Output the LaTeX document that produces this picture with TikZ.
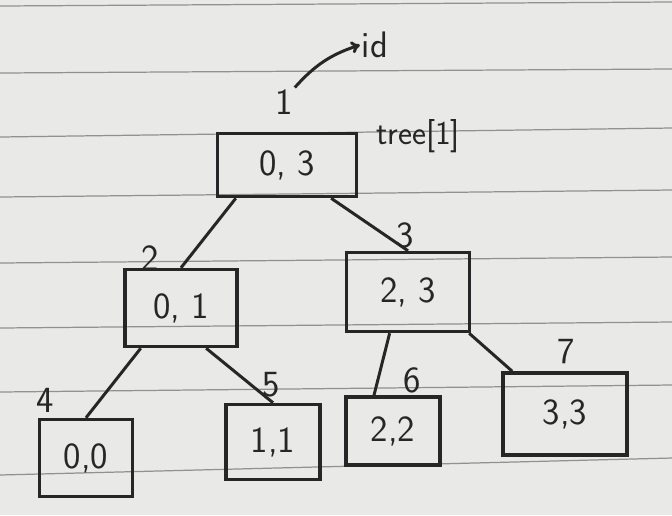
\documentclass[tikz,border=0pt]{standalone}
\usepackage{tikz}
\usetikzlibrary{arrows.meta}
\definecolor{paper}{RGB}{233,233,231}
\definecolor{rule}{RGB}{145,145,145}
\definecolor{ink}{RGB}{38,38,38}

\begin{document}
\begin{tikzpicture}[x=0.02cm,y=-0.02cm,>={To[length=5pt,width=7pt]},
  seg/.style={draw=ink,line width=2pt,text=ink,inner sep=0pt,
    font=\sffamily\fontsize{21}{24}\selectfont},
  idx/.style={text=ink,inner sep=1pt,font=\sffamily\fontsize{21}{23}\selectfont},
  edge/.style={draw=ink,line width=1.7pt}]
			\useasboundingbox (0,0) rectangle (672,515);
			\fill[paper] (0,0) rectangle (672,515);
			% ruled lines of the paper
			\foreach \a/\b in {6/2,73/69,137/128,197/190,263/257,328/322,392/385,475/458}
				\draw[rule,line width=0.7pt] (0,\a) -- (672,\b);
			% segment boxes
			\node[seg,minimum width=2.78cm,minimum height=1.26cm] (root) at (287,165) {0, 3};
			\node[seg,minimum width=2.24cm,minimum height=1.54cm] (n2) at (181,308) {0, 1};
			\node[seg,minimum width=2.46cm,minimum height=1.58cm] (n3) at (408,292) {2, 3};
			\node[seg,minimum width=1.86cm,minimum height=1.54cm] (n4) at (86,458) {0,0};
			\node[seg,minimum width=1.88cm,minimum height=1.50cm] (n5) at (273,442) {1,1};
			\node[seg,minimum width=1.88cm,minimum height=1.36cm] (n6) at (393,431) {2,2};
			\node[seg,minimum width=2.48cm,minimum height=1.64cm] (n7) at (565,414) {3,3};
			% node numbers
			\node[idx] (i1) at (284,102) {1};
			\node[idx] (i2) at (150,258) {2};
			\node[idx] (i3) at (405,235) {3};
			\node[idx] (i4) at (45,400) {4};
			\node[idx] (i5) at (271,385) {5};
			\node[idx] (i6) at (412,380) {6};
			\node[idx] (i7) at (566,352) {7};
			\node[idx] (id) at (375,45) {id};
			\node[idx,font=\sffamily\fontsize{19}{21}\selectfont] (tr) at (418,136) {tree[1]};
			\draw[edge,->] (i1.north east) to[bend left=15] (id.west);
			% tree edges
			\draw[edge] (root.-147) -- (n2.north);
			\draw[edge] (root.-37) -- (n3.north);
			\draw[edge] (n2.-135) -- (n4.north);
			\draw[edge] (n2.-58) -- (n5.north);
			\draw[edge] (n3.-114) -- (n6.118);
			\draw[edge] (n3.-34) -- (n7.141);
		\end{tikzpicture}
\end{document}
